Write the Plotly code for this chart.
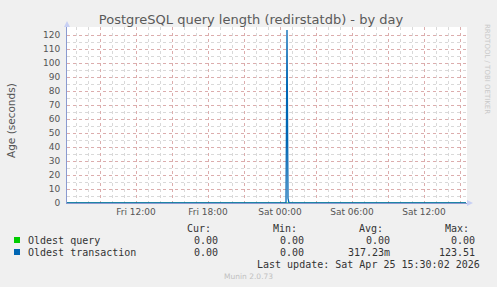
import plotly.graph_objects as go

# ---- data ----
query_times = ["2026-04-24 06:15", "2026-04-25 15:30"]
query_values = [0.0, 0.0]

txn_times = ["2026-04-24 06:15", "2026-04-25 00:30", "2026-04-25 00:35",
             "2026-04-25 00:40", "2026-04-25 00:45", "2026-04-25 15:30"]
txn_values = [0.0, 0.0, 123.51, 3.38, 0.0, 0.0]

x_range = ["2026-04-24 06:15", "2026-04-25 15:35"]
major_ticks = ["2026-04-24 09:00", "2026-04-24 12:00", "2026-04-24 15:00", "2026-04-24 18:00",
               "2026-04-24 21:00", "2026-04-25 00:00", "2026-04-25 03:00", "2026-04-25 06:00",
               "2026-04-25 09:00", "2026-04-25 12:00", "2026-04-25 15:00"]
major_labels = ["", "Fri 12:00", "", "Fri 18:00", "", "Sat 00:00", "", "Sat 06:00",
                "", "Sat 12:00", ""]
y_ticks = [0, 10, 20, 30, 40, 50, 60, 70, 80, 90, 100, 110, 120]

legend_names = ["Oldest query", "Oldest transaction"]
legend_colors = ["#00cc00", "#0066b3"]
legend_cur = ["0.00", "0.00"]
legend_min = ["0.00", "0.00"]
legend_avg = ["0.00", "317.23m"]
legend_max = ["0.00", "123.51"]

# ---- layout geometry (pixels) ----
W, H = 497, 287
L, R, T, B = 67, 467, 27, 203
PW, PH = R - L, B - T


def px(x):
    return (x - L) / PW


def py(y):
    return (B - y) / PH


fig = go.Figure()
fig.add_trace(go.Scatter(x=query_times, y=query_values, mode="lines",
                         line=dict(color=legend_colors[0], width=1.2), showlegend=False,
                         hoverinfo="skip"))
fig.add_trace(go.Scatter(x=txn_times, y=txn_values, mode="lines",
                         line=dict(color=legend_colors[1], width=1.3), showlegend=False,
                         hoverinfo="skip"))

grid_major = "rgba(225,120,120,0.45)"
grid_minor = "rgba(170,170,170,0.45)"
tick_font = dict(family="DejaVu Sans", size=9, color="#555555")

fig.update_layout(
    width=W, height=H,
    margin=dict(l=L, r=W - R, t=T, b=H - B),
    paper_bgcolor="#f0f0f0",
    plot_bgcolor="#ffffff",
    showlegend=False,
    title=dict(text="PostgreSQL query length (redirstatdb) - by day",
               x=251 / W, xanchor="center", y=1 - 19 / H, yanchor="middle",
               font=dict(family="DejaVu Sans", size=13, color="#5a5a5a")),
    xaxis=dict(type="date", range=x_range, tickmode="array", tickvals=major_ticks,
               ticktext=major_labels, showgrid=True, gridcolor=grid_major, griddash="dot",
               gridwidth=1, tickfont=tick_font, ticks="", showline=True,
               linecolor="#8a9ad0", linewidth=1, zeroline=False, fixedrange=True,
               minor=dict(dtick=3600000, tick0="2026-04-24 00:00", showgrid=True,
                          gridcolor=grid_minor, griddash="dot", gridwidth=1)),
    yaxis=dict(range=[0, PH / 1.4], tickmode="array", tickvals=y_ticks,
               showgrid=True, gridcolor=grid_major, griddash="dot", gridwidth=1,
               tickfont=tick_font, ticks="", showline=True, linecolor="#8a9ad0",
               linewidth=1, zeroline=False, fixedrange=True, ticklabelstandoff=4,
               minor=dict(dtick=5, tick0=0, showgrid=True, gridcolor=grid_minor,
                          griddash="dot", gridwidth=1)),
)

# axis arrows (decoration)
fig.add_shape(type="path", xref="paper", yref="paper", xsizemode="pixel", ysizemode="pixel",
              xanchor=1, yanchor=0, path="M 0 -3 L 6 0 L 0 3 Z",
              fillcolor="#c8d0f4", line=dict(width=0))
fig.add_shape(type="path", xref="paper", yref="paper", xsizemode="pixel", ysizemode="pixel",
              xanchor=0, yanchor=1, path="M -3 0 L 0 6 L 3 0 Z",
              fillcolor="#c8d0f4", line=dict(width=0))

mono = dict(family="DejaVu Sans Mono", size=10, color="#333333")


def text(x, y, s, anchor="left", font=mono):
    fig.add_annotation(x=px(x), y=py(y), xref="paper", yref="paper", text=s,
                       showarrow=False, xanchor=anchor, yanchor="middle", font=font)


# y axis title
fig.add_annotation(x=px(11), y=py(120), xref="paper", yref="paper", text="Age (seconds)",
                   showarrow=False, textangle=-90, xanchor="center", yanchor="middle",
                   font=dict(family="DejaVu Sans", size=10.5, color="#555555"))

# right side watermark
fig.add_annotation(x=px(487), y=py(22), xref="paper", yref="paper",
                   text="RRDTOOL / TOBI OETIKER", showarrow=False, textangle=90,
                   xanchor="center", yanchor="top",
                   font=dict(family="DejaVu Sans", size=7, color="#c8c8c8"))

# legend
text(213, 228, "Cur:", "right")
text(299, 228, "Min:", "right")
text(385, 228, "Avg:", "right")
text(471, 228, "Max:", "right")
rows_y = [240, 252]
for i in range(2):
    yy = rows_y[i]
    fig.add_shape(type="rect", xref="paper", yref="paper",
                  x0=px(14), x1=px(20), y0=py(yy + 3), y1=py(yy - 3),
                  fillcolor=legend_colors[i], line=dict(width=0))
    text(26, yy, legend_names[i])
    text(220, yy, legend_cur[i], "right")
    text(306, yy, legend_min[i], "right")
    text(392, yy, legend_avg[i], "right")
    text(477, yy, legend_max[i], "right")

text(482, 264, "Last update: Sat Apr 25 15:30:02 2026", "right")
text(248, 276, "Munin 2.0.73", "center",
     dict(family="DejaVu Sans", size=7.5, color="#c0c0c0"))

fig.write_html("out.html")
